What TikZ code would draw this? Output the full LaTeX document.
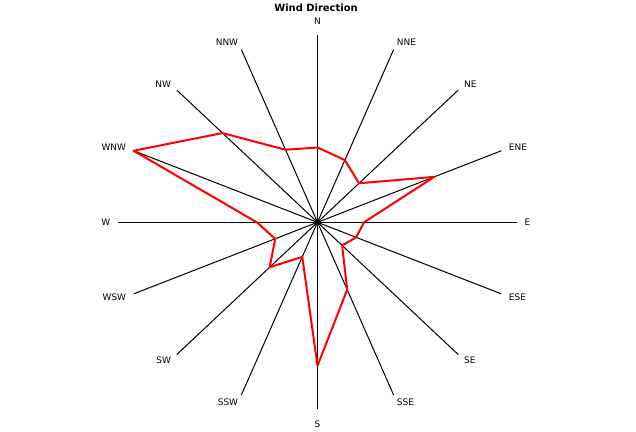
\documentclass[tikz,border=0pt]{standalone}
\usepackage{fontspec}
\setmainfont{DejaVu Sans}
\begin{document}
\begin{tikzpicture}[x=1bp, y=1bp,
  axis/.style={draw=black, line width=1bp},
  dirlabel/.style={font=\fontsize{9}{10}\selectfont, inner sep=0pt},
  rose/.style={draw=red, line width=2bp, line join=round}]

\def \rx {199}
\def \ry {187}

\useasboundingbox (-317.5,-208.7) rectangle (318.5,222.3);

\node[font=\bfseries\fontsize{10}{12}\selectfont, anchor=base] (title) at (-1.5,210.8) {Wind Direction};

\coordinate (c) at (0,0);

% spokes and their labels, clockwise from north
\foreach \d/\anc/\gap [count=\i from 0] in {N/south/11, NNE/west/8, NE/west/8, ENE/west/8,
  E/west/8, ESE/west/8, SE/west/8, SSE/west/8, S/north/11, SSW/east/8, SW/east/8,
  WSW/east/8, W/east/8, WNW/east/8, NW/east/8, NNW/east/8}
{
  \pgfmathsetmacro \ang {90 - 22.5*\i}
  \coordinate (\d) at ({\ang}:{\rx} and {\ry});
  \draw[axis] (c) -- (\d);
  \node[dirlabel, anchor=\anc] (lab-\d) at ([shift={(\ang:\gap)}]\d) {\d};
}

% relative frequency per direction
\foreach \v [count=\i from 0] in {0.40, 0.36, 0.295, 0.635, 0.234, 0.21, 0.175, 0.39,
  0.767, 0.2, 0.34, 0.23, 0.305, 1.0, 0.675, 0.42}
{
  \coordinate (r\i) at ({90 - 22.5*\i}:{\v*\rx} and {\v*\ry});
}
\draw[rose] (r0) \foreach \i in {1,...,15} {-- (r\i)} -- cycle;

\fill (c) circle (3bp);
\end{tikzpicture}
\end{document}
